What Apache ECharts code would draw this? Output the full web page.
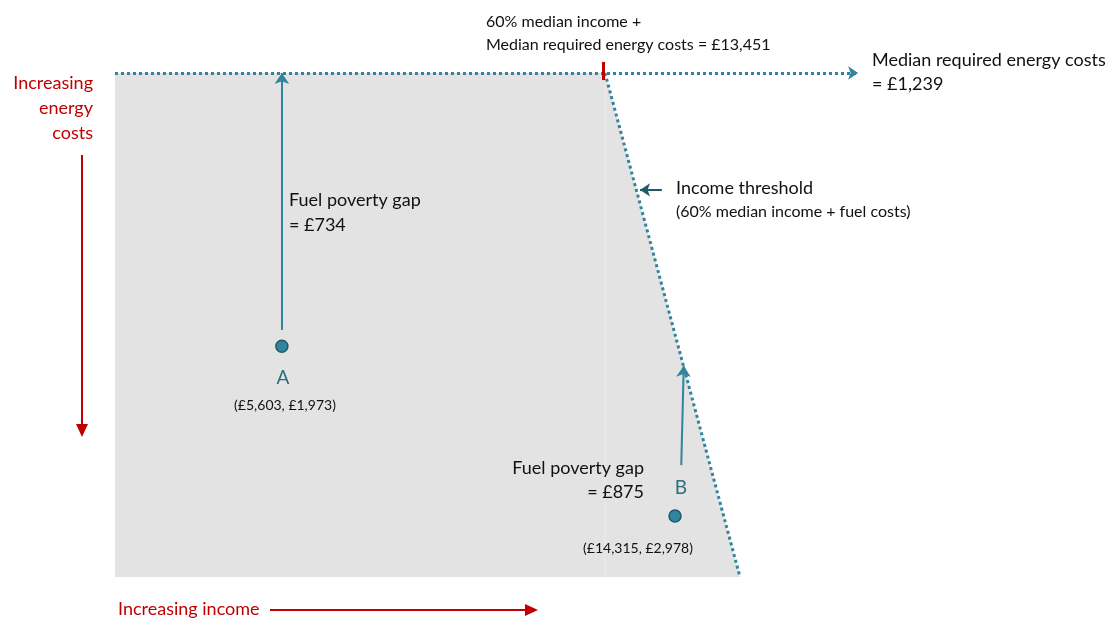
<!DOCTYPE html>
<html>
<head>
<meta charset="utf-8">
<script src="https://cdn.jsdelivr.net/npm/echarts@6/dist/echarts.min.js"></script>
<style>
html,body{margin:0;padding:0;background:#fff;}
#chart{width:1112px;height:619px;}
</style>
</head>
<body>
<div id="chart"></div>
<script>
// Schematic diagram units: x = income position (0..100), y = energy cost position (0..100, increasing downward)
const regionX = [0, 78.4, 100, 0];
const regionY = [0, 0, 100, 100];

const medianIncomeThreshold = 13451;   // 60% median income + median required energy costs
const medianEnergyCost = 1239;
const thresholdCornerX = 78.4;
const thresholdEndX = 100;
const thresholdEndY = 100;
const medianArrowEndX = 118.9;

const pointNames = ['A', 'B'];
const pointIncome = [5603, 14315];
const pointCost = [1973, 2978];
const pointX = [26.7, 89.6];
const pointY = [54.2, 87.9];

const gapValues = [734, 875];
const gapStartX = [26.7, 90.6];
const gapStartY = [51.0, 77.8];
const gapEndX = [26.7, 91.0];
const gapEndY = [0, 58.1];

const thresholdPointerX = [87.5, 84.0];
const thresholdPointerY = 23.2;

const fmt = v => '£' + v.toLocaleString('en-GB');

const TEAL = '#31849b';
const DARK_TEAL = '#215968';
const RED = '#c00000';
const INK = '#111111';
const FONT = 'Lato, "Open Sans", sans-serif';

const chart = echarts.init(document.getElementById('chart'), null, {renderer: 'canvas'});

const polygon = regionX.map((x, i) => [x, regionY[i]]);

function txt(x, y, text, size, fill, align) {
  return {type: 'text', x: x, y: y, z: 100, silent: true,
    style: {text: text, font: size + 'px ' + FONT, fill: fill, align: align || 'left', verticalAlign: 'middle'}};
}

const option = {
  animation: false,
  grid: {left: 115, top: 73, width: 625, height: 504},
  xAxis: {type: 'value', min: 0, max: 100, show: false},
  yAxis: {type: 'value', min: 0, max: 100, inverse: true, show: false},
  series: [
    {
      type: 'custom',
      data: [0],
      z: 1,
      silent: true,
      renderItem: (params, api) => {
        const a = api.coord([thresholdCornerX, 0]);
        const b = api.coord([thresholdCornerX, 100]);
        return {
          type: 'group',
          children: [
            {type: 'polygon', shape: {points: polygon.map(p => api.coord(p))}, style: {fill: '#e3e3e3'}},
            {type: 'line', shape: {x1: a[0], y1: a[1], x2: b[0], y2: b[1]}, style: {stroke: '#ebebeb', lineWidth: 1}}
          ]
        };
      }
    },
    {
      type: 'lines',
      coordinateSystem: 'cartesian2d',
      clip: false,
      z: 3,
      symbol: ['none', 'arrow'],
      symbolSize: 10,
      lineStyle: {color: TEAL, width: 3, type: [3, 3], cap: 'butt', opacity: 1},
      data: [{coords: [[0, 0], [medianArrowEndX, 0]]}]
    },
    {
      type: 'lines',
      coordinateSystem: 'cartesian2d',
      clip: false,
      z: 3,
      symbol: 'none',
      lineStyle: {color: TEAL, width: 3, type: [3, 3], cap: 'butt', opacity: 1},
      data: [{coords: [[thresholdCornerX, 0], [thresholdEndX, thresholdEndY]]}]
    },
    {
      type: 'lines',
      coordinateSystem: 'cartesian2d',
      clip: false,
      z: 4,
      symbol: 'none',
      lineStyle: {color: RED, width: 3, opacity: 1},
      data: [{coords: [[thresholdCornerX - 0.3, -2.2], [thresholdCornerX - 0.3, 1.4]]}]
    },
    {
      type: 'lines',
      coordinateSystem: 'cartesian2d',
      clip: false,
      z: 4,
      symbol: ['none', 'arrow'],
      symbolSize: 11,
      lineStyle: {color: TEAL, width: 2, opacity: 1},
      data: gapStartX.map((x, i) => ({coords: [[x, gapStartY[i]], [gapEndX[i], gapEndY[i]]]}))
    },
    {
      type: 'lines',
      coordinateSystem: 'cartesian2d',
      clip: false,
      z: 4,
      symbol: ['none', 'arrow'],
      symbolSize: 10,
      lineStyle: {color: DARK_TEAL, width: 2, opacity: 1},
      data: [{coords: [[thresholdPointerX[0], thresholdPointerY], [thresholdPointerX[1], thresholdPointerY]]}]
    },
    {
      type: 'scatter',
      z: 5,
      symbol: 'circle',
      symbolSize: 12,
      itemStyle: {color: TEAL, borderColor: DARK_TEAL, borderWidth: 1.5, opacity: 1},
      data: pointX.map((x, i) => ({name: pointNames[i], value: [x, pointY[i]]}))
    }
  ],
  graphic: [
    // left axis label + arrow
    {type: 'text', x: 93, y: 108, z: 100, style: {text: 'Increasing\nenergy\ncosts', font: '18px ' + FONT, fill: RED, align: 'right', verticalAlign: 'middle', lineHeight: 25}},
    {type: 'line', z: 100, shape: {x1: 82, y1: 155, x2: 82, y2: 426}, style: {stroke: RED, lineWidth: 2}},
    {type: 'polygon', z: 100, shape: {points: [[76, 424], [88, 424], [82, 437]]}, style: {fill: RED}},
    // bottom axis label + arrow
    txt(118, 609, 'Increasing income', 18, RED),
    {type: 'line', z: 100, shape: {x1: 270, y1: 610, x2: 527, y2: 610}, style: {stroke: RED, lineWidth: 2}},
    {type: 'polygon', z: 100, shape: {points: [[525, 604], [525, 616], [538, 610]]}, style: {fill: RED}},
    // top annotation
    txt(486, 22, '60% median income +', 16, INK),
    txt(486, 45, 'Median required energy costs = ' + fmt(medianIncomeThreshold), 16, INK),
    // right annotation
    txt(872, 60, 'Median required energy costs', 18, INK),
    txt(872, 84, '= ' + fmt(medianEnergyCost), 18, INK),
    // income threshold annotation
    txt(676, 188, 'Income threshold', 18, INK),
    txt(676, 212, '(60% median income + fuel costs)', 16, INK),
    // gap A
    txt(289, 200, 'Fuel poverty gap', 18, INK),
    txt(289, 225, '= ' + fmt(gapValues[0]), 18, INK),
    // point A labels
    txt(283, 378, pointNames[0], 19, '#2b6f80', 'center'),
    txt(285, 405, '(' + fmt(pointIncome[0]) + ', ' + fmt(pointCost[0]) + ')', 14, INK, 'center'),
    // gap B
    txt(644, 468, 'Fuel poverty gap', 18, INK, 'right'),
    txt(644, 492, '= ' + fmt(gapValues[1]), 18, INK, 'right'),
    // point B labels
    txt(681, 488, pointNames[1], 19, '#2b6f80', 'center'),
    txt(638, 548, '(' + fmt(pointIncome[1]) + ', ' + fmt(pointCost[1]) + ')', 14, INK, 'center')
  ]
};
chart.setOption(option);
</script>
</body>
</html>
